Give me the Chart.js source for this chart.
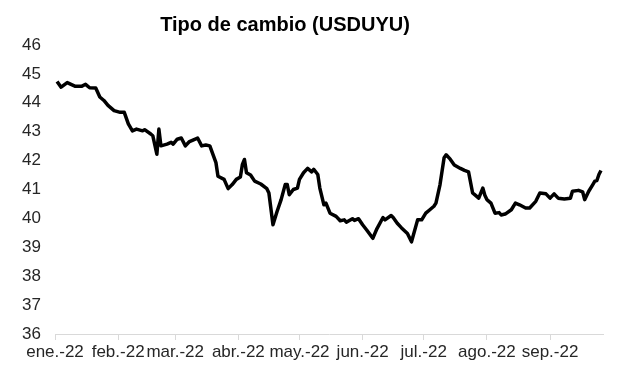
<!DOCTYPE html>
<html lang="es">
<head>
<meta charset="utf-8">
<title>Tipo de cambio (USDUYU)</title>
<script src="https://cdn.jsdelivr.net/npm/chart.js@4/dist/chart.umd.min.js"></script>
<style>
    html, body { margin: 0; padding: 0; background: #fff; }
    #chart-box { width: 617px; height: 381px; }
</style>
</head>
<body>
<div id="chart-box"><canvas id="usduyu-chart"></canvas></div>
<script>
// Datos (días contados desde el 1 de enero de 2022)
const titulo = 'Tipo de cambio (USDUYU)';
const meses = ['ene.-22', 'feb.-22', 'mar.-22', 'abr.-22', 'may.-22', 'jun.-22', 'jul.-22', 'ago.-22', 'sep.-22'];
const inicioMes = [0, 31, 59, 90, 120, 151, 181, 212, 243];
const ultimoDia = 269;

const dias = [
    1, 3, 6, 10, 13, 15, 17, 20, 22, 24, 26, 29, 32, 34, 36, 38, 40, 43, 44, 47,
    48, 50, 51, 52, 55, 57, 58, 60, 62, 64, 66, 70, 72, 74, 76, 79, 80, 83, 85, 87,
    89, 91, 92, 93, 94, 96, 98, 101, 104, 105, 107, 109, 111, 113, 114, 115, 117, 119, 120, 122,
    124, 126, 127, 129, 130, 132, 133, 135, 138, 140, 142, 143, 146, 147, 149, 151, 153, 156, 158, 161,
    162, 165, 166, 168, 170, 173, 175, 178, 180, 182, 184, 186, 187, 189, 191, 192, 194, 196, 199, 201,
    203, 205, 206, 208, 210, 211, 212, 214, 216, 218, 219, 221, 224, 226, 228, 231, 233, 236, 238, 241,
    243, 245, 247, 250, 253, 254, 257, 259, 260, 262, 264, 265, 266, 267, 268
];
const valores = [
    44.74, 44.54, 44.70, 44.57, 44.57, 44.64, 44.52, 44.51, 44.20, 44.08, 43.91, 43.73, 43.67, 43.67, 43.27, 43.03, 43.09, 43.03, 43.07, 42.92,
    42.86, 42.22, 43.09, 42.51, 42.57, 42.63, 42.57, 42.74, 42.78, 42.51, 42.66, 42.78, 42.51, 42.54, 42.51, 41.93, 41.46, 41.35, 41.03, 41.17,
    41.35, 41.43, 41.87, 42.04, 41.58, 41.50, 41.29, 41.19, 41.03, 40.88, 39.78, 40.24, 40.65, 41.17, 41.17, 40.82, 41.00, 41.05, 41.35, 41.58,
    41.73, 41.61, 41.70, 41.52, 41.05, 40.47, 40.53, 40.18, 40.07, 39.92, 39.95, 39.87, 39.99, 39.93, 39.99, 39.78, 39.60, 39.31, 39.64, 40.03,
    39.95, 40.10, 40.03, 39.83, 39.68, 39.48, 39.19, 39.95, 39.95, 40.18, 40.30, 40.42, 40.53, 41.17, 42.10, 42.20, 42.05, 41.85, 41.73, 41.66,
    41.61, 40.88, 40.82, 40.70, 41.05, 40.80, 40.65, 40.53, 40.18, 40.20, 40.12, 40.15, 40.30, 40.53, 40.47, 40.36, 40.36, 40.59, 40.88, 40.85,
    40.70, 40.85, 40.70, 40.67, 40.70, 40.94, 40.97, 40.92, 40.65, 40.94, 41.17, 41.29, 41.31, 41.52, 41.66
];

const fuente = "'Liberation Sans', Arial, sans-serif";

// título dibujado a mano para poder centrarlo donde está en el original
const tituloPlugin = {
    id: 'tituloPlugin',
    afterDraw(chart) {
        const ctx = chart.ctx;
        ctx.save();
        ctx.font = `bold 20px ${fuente}`;
        ctx.fillStyle = '#000';
        ctx.textAlign = 'center';
        ctx.textBaseline = 'middle';
        ctx.fillText(titulo, 285, 25);
        ctx.restore();
    }
};

new Chart(document.getElementById('usduyu-chart'), {
    type: 'line',
    data: {
        datasets: [{
            label: titulo,
            data: dias.map((d, i) => ({ x: d, y: valores[i] })),
            borderColor: '#000',
            borderWidth: 3.5,
            borderJoinStyle: 'round',
            pointRadius: 0,
            tension: 0,
            fill: false
        }]
    },
    options: {
        responsive: true,
        maintainAspectRatio: false,
        animation: false,
        layout: { padding: { top: 45, right: 14, bottom: 0, left: 0 } },
        plugins: {
            legend: { display: false },
            title: { display: false },
            tooltip: { enabled: false }
        },
        scales: {
            x: {
                type: 'linear',
                min: 0,
                max: ultimoDia,
                afterBuildTicks: scale => {
                    scale.ticks = inicioMes.map(v => ({ value: v }));
                },
                afterFit: scale => { scale.height = 47; },
                grid: {
                    display: true,
                    drawOnChartArea: false,
                    drawTicks: true,
                    tickLength: 6,
                    color: '#d9d9d9'
                },
                border: { display: true, color: '#d9d9d9', width: 1 },
                ticks: {
                    autoSkip: false,
                    maxRotation: 0,
                    padding: 2,
                    color: '#262626',
                    font: { family: fuente, size: 17 },
                    callback: (value, index) => meses[index]
                }
            },
            y: {
                min: 36,
                max: 46,
                afterFit: scale => { scale.width = 55; },
                grid: { display: false, drawTicks: false },
                border: { display: false },
                ticks: {
                    stepSize: 1,
                    padding: 14,
                    color: '#262626',
                    font: { family: fuente, size: 17 }
                }
            }
        }
    },
    plugins: [tituloPlugin]
});
</script>
</body>
</html>
